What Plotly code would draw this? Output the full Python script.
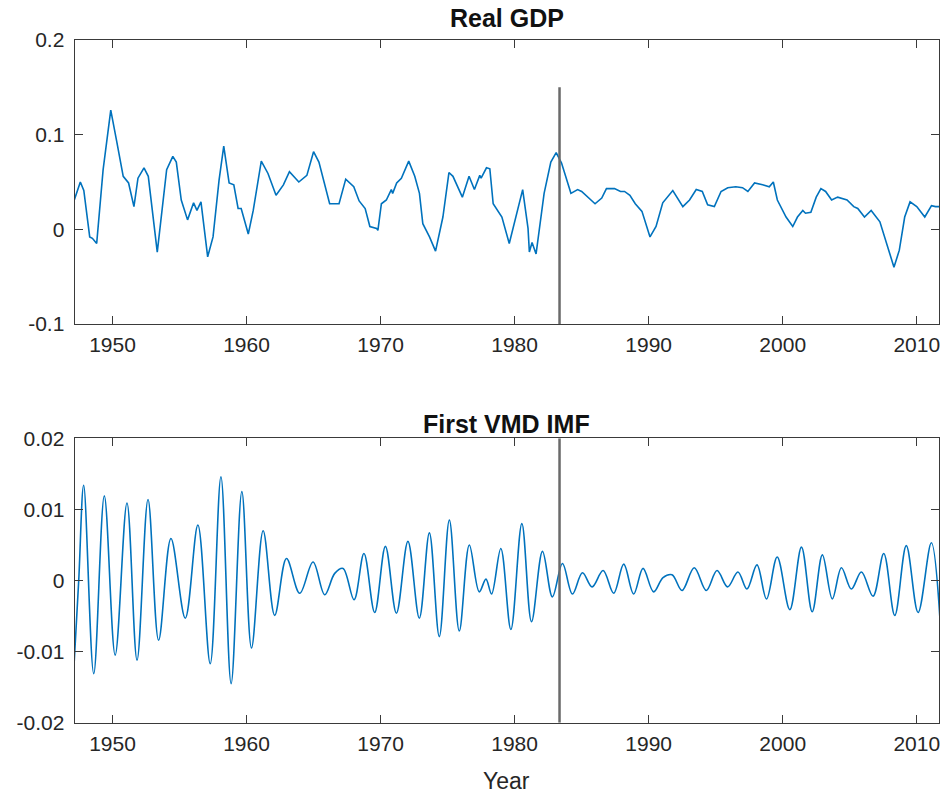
import plotly.graph_objects as go

# ---------------- data ----------------
gdp_year = [1947.1, 1947.6, 1947.86, 1948.3, 1948.5, 1948.82, 1949.3, 1949.87, 1950.3, 1950.8,
            1951.2, 1951.6, 1951.9, 1952.35, 1952.67, 1953.34, 1954.04, 1954.5, 1954.76, 1955.13,
            1955.6, 1956.05, 1956.3, 1956.6, 1957.1, 1957.5, 1957.95, 1958.3, 1958.7, 1959.05,
            1959.37, 1959.6, 1960.13, 1960.5, 1961.1, 1961.6, 1962.2, 1962.75, 1963.2, 1963.9,
            1964.5, 1965.0, 1965.4, 1966.2, 1966.9, 1967.4, 1968.0, 1968.4, 1968.85, 1969.2,
            1969.7, 1969.8, 1970.06, 1970.43, 1970.8, 1970.9, 1971.2, 1971.55, 1972.1, 1972.55,
            1972.9, 1973.15, 1973.65, 1974.1, 1974.65, 1975.1, 1975.4, 1976.1, 1976.6, 1977.0,
            1977.4, 1977.5, 1977.9, 1978.15, 1978.4, 1979.05, 1979.6, 1980.13, 1980.6, 1981.0,
            1981.1, 1981.3, 1981.6, 1982.2, 1982.7, 1983.1, 1983.5, 1984.2, 1984.7, 1985.0,
            1986.0, 1986.5, 1986.85, 1987.45, 1987.9, 1988.2, 1988.6, 1989.0, 1989.5, 1990.1,
            1990.55, 1991.05, 1991.8, 1992.55, 1993.05, 1993.55, 1994.0, 1994.4, 1994.9, 1995.4,
            1995.9, 1996.5, 1997.0, 1997.4, 1997.9, 1998.5, 1999.0, 1999.3, 1999.6, 2000.25,
            2000.75, 2001.1, 2001.5, 2001.7, 2002.1, 2002.5, 2002.85, 2003.2, 2003.65, 2004.1,
            2004.8, 2005.3, 2005.6, 2006.1, 2006.6, 2007.25, 2007.74, 2008.3, 2008.7, 2009.1,
            2009.5, 2010.0, 2010.6, 2011.1, 2011.4, 2011.7]
gdp_value = [0.029, 0.050, 0.041, -0.008, -0.0095, -0.015, 0.063, 0.126, 0.094, 0.056,
             0.049, 0.024, 0.054, 0.065, 0.056, -0.024, 0.063, 0.077, 0.071, 0.031,
             0.010, 0.028, 0.020, 0.029, -0.029, -0.008, 0.052, 0.088, 0.049, 0.047,
             0.022, 0.022, -0.005, 0.020, 0.072, 0.059, 0.036, 0.047, 0.061, 0.050,
             0.057, 0.082, 0.071, 0.027, 0.027, 0.053, 0.045, 0.030, 0.022, 0.003,
             0.001, -0.001, 0.027, 0.031, 0.042, 0.038, 0.049, 0.054, 0.072, 0.056,
             0.038, 0.006, -0.008, -0.023, 0.013, 0.060, 0.056, 0.034, 0.056, 0.042,
             0.057, 0.054, 0.065, 0.064, 0.027, 0.013, -0.015, 0.015, 0.042, 0.001,
             -0.024, -0.014, -0.026, 0.038, 0.071, 0.081, 0.070, 0.038, 0.042, 0.040,
             0.027, 0.033, 0.043, 0.043, 0.040, 0.040, 0.036, 0.027, 0.019, -0.008,
             0.003, 0.028, 0.041, 0.024, 0.031, 0.042, 0.040, 0.026, 0.024, 0.040,
             0.044, 0.045, 0.044, 0.040, 0.049, 0.047, 0.045, 0.050, 0.031, 0.013,
             0.003, 0.013, 0.020, 0.017, 0.018, 0.034, 0.043, 0.040, 0.031, 0.034,
             0.031, 0.024, 0.022, 0.013, 0.020, 0.008, -0.015, -0.040, -0.022, 0.013,
             0.029, 0.024, 0.013, 0.025, 0.024, 0.024]

imf_year = [1947.11, 1947.48, 1947.85, 1948.6, 1949.39, 1950.2, 1951.08, 1951.83, 1952.65, 1953.44,
            1954.36, 1955.43, 1956.37, 1957.29, 1958.09, 1958.85, 1959.65, 1960.37, 1961.24, 1962.1,
            1962.98, 1963.97, 1964.96, 1965.83, 1966.58, 1967.2, 1968.02, 1968.76, 1969.56, 1970.36,
            1971.18, 1972.04, 1972.89, 1973.64, 1974.38, 1975.13, 1975.87, 1976.62, 1977.36, 1977.86,
            1978.28, 1978.97, 1979.72, 1980.54, 1981.26, 1982.08, 1982.82, 1983.57, 1984.31, 1985.06,
            1985.78, 1986.6, 1987.39, 1988.14, 1988.88, 1989.58, 1990.37, 1991.07, 1991.74, 1992.49,
            1993.4, 1994.3, 1995.1, 1995.89, 1996.66, 1997.33, 1998.08, 1998.79, 1999.59, 2000.53,
            2001.4, 2002.2, 2002.96, 2003.7, 2004.38, 2005.12, 2005.87, 2006.74, 2007.54, 2008.36,
            2009.22, 2010.1, 2011.09, 2011.72]
imf_value = [-0.0126, 0.0, 0.0134, -0.0131, 0.0119, -0.0105, 0.0109, -0.0112, 0.0114, -0.0084,
             0.0059, -0.0053, 0.0078, -0.0117, 0.0146, -0.0145, 0.0125, -0.0095, 0.0070, -0.0049,
             0.0031, -0.0018, 0.0026, -0.0020, 0.0010, 0.0017, -0.0027, 0.0038, -0.0045, 0.0048,
             -0.0046, 0.0055, -0.0053, 0.0067, -0.0079, 0.0085, -0.0071, 0.0050, -0.0016, 0.0002,
             -0.0019, 0.0045, -0.0069, 0.0080, -0.0058, 0.0041, -0.0023, 0.0024, -0.0019, 0.0011,
             -0.0009, 0.0014, -0.0018, 0.0023, -0.0019, 0.0017, -0.0016, 0.0004, 0.0008, -0.0014,
             0.0018, -0.0014, 0.0014, -0.0009, 0.0012, -0.0012, 0.0022, -0.0026, 0.0033, -0.0041,
             0.0047, -0.0044, 0.0036, -0.0026, 0.0018, -0.0012, 0.0012, -0.0022, 0.0038, -0.0049,
             0.0049, -0.0045, 0.0053, -0.0051]

break_year = 1983.35
break_top_gdp = 0.15

x_range = [1947.18, 2011.66]
x_tick_vals = [1950, 1960, 1970, 1980, 1990, 2000, 2010]
x_tick_text = ["1950", "1960", "1970", "1980", "1990", "2000", "2010"]
gdp_tick_vals = [-0.1, 0, 0.1, 0.2]
gdp_tick_text = ["-0.1", "0", "0.1", "0.2"]
imf_tick_vals = [-0.02, -0.01, 0, 0.01, 0.02]
imf_tick_text = ["-0.02", "-0.01", "0", "0.01", "0.02"]
titles = ["Real GDP", "First VMD IMF"]
x_label = "Year"

# ---------------- figure ----------------
W, H = 948, 795
BLUE = "#0072BD"
AX = "#3a3a3a"
TXT = "#262626"
FONT = "Liberation Sans, Arial, sans-serif"


def px(x):
    return x / W


def py(y):
    return 1 - y / H


fig = go.Figure()
fig.add_trace(go.Scatter(x=gdp_year, y=gdp_value, mode="lines",
                         line=dict(color=BLUE, width=1.6), xaxis="x", yaxis="y", showlegend=False))
fig.add_trace(go.Scatter(x=[break_year, break_year], y=[gdp_tick_vals[0], break_top_gdp], mode="lines",
                         line=dict(color="#6a6a6a", width=2.5), xaxis="x", yaxis="y", showlegend=False))
fig.add_trace(go.Scatter(x=imf_year, y=imf_value, mode="lines",
                         line=dict(color=BLUE, width=1.6, shape="spline", smoothing=1.0),
                         xaxis="x2", yaxis="y2", showlegend=False))
fig.add_trace(go.Scatter(x=[break_year, break_year], y=[imf_tick_vals[0], imf_tick_vals[-1]], mode="lines",
                         line=dict(color="#6a6a6a", width=2.5), xaxis="x2", yaxis="y2", showlegend=False))

xd = [px(74.7), px(939)]
top_dom = [py(324), py(40)]
bot_dom = [py(722.7), py(438.3)]

common_axis = dict(showline=True, linecolor=AX, linewidth=1.3, mirror="ticks", ticks="inside",
                   ticklen=8, tickwidth=1.3, tickcolor=AX, showgrid=False, zeroline=False,
                   automargin=False,
                   tickfont=dict(family=FONT, size=21, color=TXT))

fig.update_layout(
    width=W, height=H, margin=dict(l=0, r=0, t=0, b=0, pad=0, autoexpand=False),
    paper_bgcolor="white", plot_bgcolor="white",
    xaxis=dict(domain=xd, anchor="y", range=x_range, tickvals=x_tick_vals, ticktext=x_tick_text,
               ticklabelstandoff=2, **common_axis),
    yaxis=dict(domain=top_dom, anchor="x", range=[-0.1, 0.2], tickvals=gdp_tick_vals, ticktext=gdp_tick_text,
               ticklabelstandoff=5, **common_axis),
    xaxis2=dict(domain=xd, anchor="y2", range=x_range, tickvals=x_tick_vals, ticktext=x_tick_text,
                ticklabelstandoff=2, **common_axis),
    yaxis2=dict(domain=bot_dom, anchor="x2", range=[-0.02, 0.02], tickvals=imf_tick_vals, ticktext=imf_tick_text,
                ticklabelstandoff=5, **common_axis),
    annotations=[
        dict(text="<b>" + titles[0] + "</b>", x=(xd[0] + xd[1]) / 2, y=py(18), xref="paper", yref="paper",
             showarrow=False, font=dict(family=FONT, size=25, color="#111111"), xanchor="center", yanchor="middle"),
        dict(text="<b>" + titles[1] + "</b>", x=(xd[0] + xd[1]) / 2, y=py(424), xref="paper", yref="paper",
             showarrow=False, font=dict(family=FONT, size=25, color="#111111"), xanchor="center", yanchor="middle"),
        dict(text=x_label, x=(xd[0] + xd[1]) / 2, y=py(781), xref="paper", yref="paper",
             showarrow=False, font=dict(family=FONT, size=23, color=TXT), xanchor="center", yanchor="middle"),
    ],
)

# remove the browser's default 8px body margin so the figure fills the window exactly
fig.write_html("out.html", config={"displayModeBar": False},
               post_script="document.body.style.margin='0px';")
